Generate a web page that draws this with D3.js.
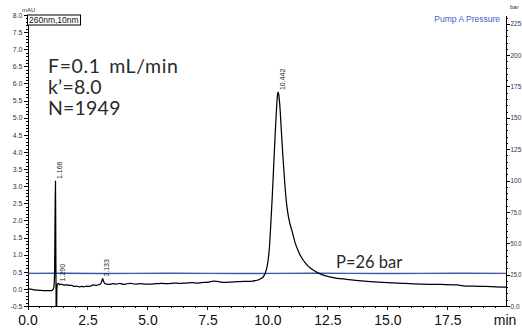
<!DOCTYPE html>
<html>
<head>
<meta charset="utf-8">
<script src="https://cdn.jsdelivr.net/npm/d3@7/dist/d3.min.js"></script>
<style>
  html, body { margin: 0; padding: 0; background: #fff; }
  svg { display: block; }
  .axis path, .axis line { stroke: #000; shape-rendering: crispEdges; }
  .small { font-family: "Liberation Sans", Arial, sans-serif; font-size: 7px; fill: #333; }
</style>
</head>
<body>
<svg id="chart" width="522" height="329"></svg>
<script>
// UV absorbance trace (260 nm), time in minutes, signal in mAU
const signalTimes = [
  0.00, 0.15, 0.30, 0.50, 0.70, 0.85, 1.00, 1.06, 1.10, 1.13, 1.15, 1.166,
  1.18, 1.195, 1.21, 1.225, 1.24, 1.26, 1.29, 1.33, 1.40, 1.48, 1.56, 1.65,
  1.75, 1.85, 1.95, 2.05, 2.15, 2.25, 2.35, 2.45, 2.55, 2.65, 2.75, 2.85,
  2.95, 3.05, 3.10, 3.133, 3.17, 3.22, 3.30, 3.40, 3.55, 3.70, 3.85, 4.00,
  4.15, 4.30, 4.50, 4.70, 4.90, 5.10, 5.35, 5.60, 5.85, 6.10, 6.35, 6.60,
  6.85, 7.10, 7.35, 7.55, 7.75, 7.90, 8.05, 8.25, 8.50, 8.75, 9.00, 9.20,
  9.40, 9.60, 9.75, 9.85, 9.95, 10.02, 10.08, 10.14, 10.20, 10.26, 10.32,
  10.38, 10.42, 10.442, 10.47, 10.52, 10.58, 10.65, 10.73, 10.82, 10.92,
  11.02, 11.15, 11.30, 11.45, 11.60, 11.80, 12.00, 12.30, 12.60, 12.90,
  13.30, 13.80, 14.30, 15.00, 15.70, 16.40, 17.20, 17.90, 18.15, 18.60,
  19.10, 19.50, 19.94
];
const signalValues = [
  0.00, -0.01, -0.03, -0.04, -0.05, -0.05, -0.05, -0.02, 0.05, 0.50, 2.20, 3.15,
  1.20, -0.60, -0.70, 0.00, 0.13, 0.15, 0.16, 0.12, 0.14, 0.12, 0.11, 0.12,
  0.10, 0.10, 0.07, 0.08, 0.06, 0.07, 0.06, 0.08, 0.07, 0.09, 0.12, 0.10,
  0.12, 0.15, 0.24, 0.30, 0.22, 0.16, 0.14, 0.13, 0.15, 0.14, 0.16, 0.13,
  0.15, 0.16, 0.14, 0.15, 0.14, 0.14, 0.15, 0.16, 0.15, 0.17, 0.16, 0.17,
  0.18, 0.17, 0.19, 0.20, 0.23, 0.22, 0.20, 0.19, 0.20, 0.21, 0.22, 0.22,
  0.23, 0.26, 0.31, 0.38, 0.55, 0.80, 1.20, 1.90, 2.70, 3.60, 4.50,
  5.30, 5.68, 5.75, 5.68, 5.30, 4.60, 3.80, 3.00, 2.35, 1.95,
  1.70, 1.35, 1.08, 0.88, 0.74, 0.60, 0.51, 0.41, 0.35, 0.31,
  0.28, 0.24, 0.21, 0.18, 0.16, 0.14, 0.13, 0.12, 0.09, 0.08,
  0.07, 0.06, 0.05
];

// Pump A pressure trace, bar
const pressureTimes = [0.0, 1.5, 3.0, 4.5, 6.0, 7.5, 9.0, 10.5, 12.0, 13.5, 15.0, 16.5, 18.0, 19.94];
const pressureValues = [26.0, 26.1, 25.9, 26.0, 26.1, 26.0, 25.9, 26.0, 26.1, 26.0, 25.9, 26.0, 26.1, 26.0];

// Integrated peaks
const peakTimes = [1.166, 1.290, 3.133, 10.442];
const peakLabels = ["1.166", "1.290", "3.133", "10.442"];

// Axis ticks
const timeTicks = [0, 2.5, 5.0, 7.5, 10.0, 12.5, 15.0, 17.5];
const timeTickLabels = ["0.0", "2.5", "5.0", "7.5", "10.0", "12.5", "15.0", "17.5"];
const absTicks = [-0.5, 0.0, 0.5, 1.0, 1.5, 2.0, 2.5, 3.0, 3.5, 4.0, 4.5, 5.0, 5.5, 6.0, 6.5, 7.0, 7.5, 8.0];
const absTickLabels = ["-0.5", "0.0", "0.5", "1.0", "1.5", "2.0", "2.5", "3.0", "3.5", "4.0", "4.5", "5.0", "5.5", "6.0", "6.5", "7.0", "7.5", "8.0"];
const pressureTicks = [0, 25, 50, 75, 100, 125, 150, 175, 200, 225];
const pressureTickLabels = ["0.0", "25.0", "50.0", "75.0", "100", "125", "150", "175", "200", "225"];

// Method notes
const methodNotes = ["F=0.1 mL/min", "k\u2019=8.0", "N=1949"];
const pressureNote = "P=26 bar";

const svg = d3.select("#chart");
const plot = { left: 27.5, right: 506, top: 15, bottom: 306 };

const x = d3.scaleLinear().domain([0, 19.94]).range([plot.left, plot.right]);
const yAbs = d3.scaleLinear().domain([-0.5, 8.0]).range([plot.bottom, plot.top]);
const yBar = d3.scaleLinear().domain([0, 232]).range([plot.bottom, plot.top]);

svg.append("defs").append("clipPath").attr("id", "plot-clip")
  .append("rect")
  .attr("x", plot.left).attr("y", plot.top)
  .attr("width", plot.right - plot.left).attr("height", plot.bottom - plot.top);

// Minor ticks
const minorTime = d3.range(0, 19.8, 0.5).filter(t => !timeTicks.some(m => Math.abs(m - t) < 1e-6));
const minorAbs = d3.range(-0.5, 8.001, 0.1).filter(v => !absTicks.some(m => Math.abs(m - v) < 1e-6));
const minorBar = d3.range(0, 232, 5).filter(v => !pressureTicks.includes(v));

svg.append("g").attr("class", "axis")
  .attr("transform", `translate(0,${plot.bottom})`)
  .call(d3.axisBottom(x).tickValues(minorTime).tickSize(2).tickFormat(""))
  .call(g => g.select(".domain").remove());
svg.append("g").attr("class", "axis")
  .attr("transform", `translate(${plot.left},0)`)
  .call(d3.axisLeft(yAbs).tickValues(minorAbs).tickSize(2).tickFormat(""))
  .call(g => g.select(".domain").remove());
svg.append("g").attr("class", "axis")
  .attr("transform", `translate(${plot.right},0)`)
  .call(d3.axisRight(yBar).tickValues(minorBar).tickSize(2).tickFormat(""))
  .call(g => g.select(".domain").remove());

// Major axes
const xAxis = svg.append("g").attr("class", "axis")
  .attr("transform", `translate(0,${plot.bottom})`)
  .call(d3.axisBottom(x).tickValues(timeTicks).tickSize(4).tickPadding(5)
    .tickFormat((d, i) => timeTickLabels[i]).tickSizeOuter(0));
xAxis.selectAll("text")
  .attr("font-family", "'Liberation Sans', Arial, sans-serif")
  .attr("font-size", 14).attr("fill", "#111");

const leftAxis = svg.append("g").attr("class", "axis")
  .attr("transform", `translate(${plot.left},0)`)
  .call(d3.axisLeft(yAbs).tickValues(absTicks).tickSize(4).tickPadding(1)
    .tickFormat((d, i) => absTickLabels[i]).tickSizeOuter(0));
leftAxis.selectAll("text").attr("class", "small").attr("font-size", null).attr("font-family", null);

// Pressure axis labels run to the page edge
const rightAxis = svg.append("g").attr("class", "axis")
  .attr("transform", `translate(${plot.right},0)`)
  .call(d3.axisRight(yBar).tickValues(pressureTicks).tickSize(4).tickPadding(0.5)
    .tickFormat((d, i) => pressureTickLabels[i]).tickSizeOuter(0));
rightAxis.selectAll("text").attr("class", "small").attr("font-size", null).attr("font-family", null)
  .style("font-size", "6.5px").attr("textLength", (d, i) => pressureTickLabels[i].length > 3 ? 11 : null)
  .attr("lengthAdjust", "spacingAndGlyphs");

// Unit labels
svg.append("text").attr("class", "small").attr("x", x(19.94) - 1).attr("y", 325)
  .attr("text-anchor", "middle").style("font-size", "14px").style("fill", "#111")
  .text("min");
svg.append("text").attr("class", "small").attr("x", 22).attr("y", 12)
  .style("font-size", "6px").text("mAU");
svg.append("text").attr("class", "small").attr("x", 510).attr("y", 9)
  .style("font-size", "6px").text("bar");

// Signal and pressure traces
const clipped = svg.append("g").attr("clip-path", "url(#plot-clip)");

const pressureLine = d3.line()
  .x((d, i) => x(pressureTimes[i]))
  .y(d => yBar(d));
clipped.append("path")
  .datum(pressureValues)
  .attr("d", pressureLine)
  .attr("fill", "none").attr("stroke", "#3a57a8").attr("stroke-width", 1.4);

const signalLine = d3.line()
  .x((d, i) => x(signalTimes[i]))
  .y(d => yAbs(d))
  .curve(d3.curveMonotoneX);
clipped.append("path")
  .datum(signalValues)
  .attr("d", signalLine)
  .attr("fill", "none").attr("stroke", "#000").attr("stroke-width", 1.25)
  .attr("stroke-linejoin", "round");

// Retention time labels, rotated above each apex
peakTimes.forEach((t, i) => {
  const k = signalTimes.findIndex(s => Math.abs(s - t) < 1e-9);
  const px = x(t) + 6.5;
  const py = yAbs(signalValues[k]) - 2;
  svg.append("text").attr("class", "small")
    .attr("transform", `translate(${px},${py}) rotate(-90)`)
    .style("fill", "#222")
    .text(peakLabels[i]);
});

// Detector label box
const det = svg.append("g");
det.append("rect").attr("x", plot.left).attr("y", plot.top).attr("width", 53).attr("height", 10)
  .attr("fill", "#fff").attr("stroke", "#000").attr("stroke-width", 1);
det.append("text").attr("x", plot.left + 1.5).attr("y", plot.top + 8)
  .attr("font-family", "'Liberation Sans', Arial, sans-serif").attr("font-size", 8.5).attr("fill", "#111")
  .text("260nm,10nm");

// Trace legend
svg.append("text").attr("x", 500).attr("y", 22).attr("text-anchor", "end")
  .attr("font-family", "'Liberation Sans', Arial, sans-serif").attr("font-size", 8.5).attr("fill", "#3a5fc8")
  .text("Pump A Pressure");

// Method annotations
svg.selectAll("text.note").data(methodNotes).join("text")
  .attr("class", "note")
  .attr("x", 48).attr("y", (d, i) => 73 + i * 21)
  .attr("font-family", "Lato, 'Open Sans', sans-serif").attr("font-size", 19.5)
  .attr("font-weight", 400).attr("fill", "#2a2a2a")
  .attr("word-spacing", (d, i) => i === 0 ? 3 : 0)
  .attr("letter-spacing", (d, i) => i === 0 ? 0.6 : 0.2)
  .text(d => d);

svg.append("text").attr("x", 336).attr("y", 268)
  .attr("font-family", "Lato, 'Open Sans', sans-serif").attr("font-size", 16.5)
  .attr("font-weight", 400).attr("fill", "#2a2a2a")
  .text(pressureNote);
</script>
</body>
</html>
